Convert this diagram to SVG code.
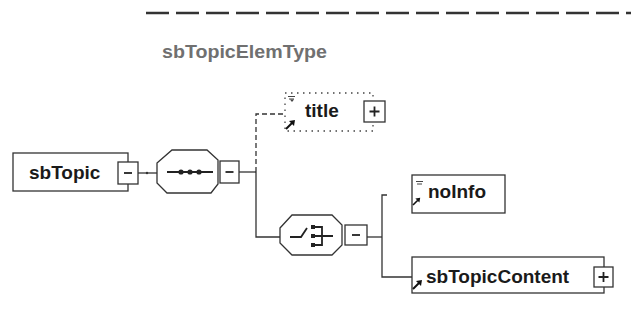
<svg xmlns="http://www.w3.org/2000/svg" width="631" height="336" viewBox="0 0 631 336">
<defs>
<style>
.t{font-family:"Liberation Sans",Arial,sans-serif;font-weight:bold;font-size:19px;fill:#1a1a1a}
.hdr{font-family:"Liberation Sans",Arial,sans-serif;font-weight:bold;font-size:18px;fill:#707070}
.box{fill:#fff;stroke:#333;stroke-width:1.3}
.opt{fill:#fff;stroke:#444;stroke-width:1.3;stroke-dasharray:1.5 4.5}
.ln{fill:none;stroke:#333;stroke-width:1.3}
.dash{fill:none;stroke:#333;stroke-width:1.3;stroke-dasharray:5 3}
.btn{fill:#fff;stroke:#333;stroke-width:1.3}
.sym{fill:none;stroke:#222;stroke-width:1.8}
.dot{fill:#222}
</style>
<g id="refIcon">
<path d="M0,10 L6,4" stroke="#111" stroke-width="2" fill="none"/>
<polygon points="9,1 3,2 8,7" fill="#111"/>
</g>
<g id="eqIcon">
<path d="M0,0.5h7M1,3h5" stroke="#444" stroke-width="1.1" fill="none"/>
</g>
<g id="minus"><path d="M-4,0h8" stroke="#222" stroke-width="1.8"/></g>
<g id="plus"><path d="M-5,0h10M0,-5v10" stroke="#222" stroke-width="1.8"/></g>
</defs>
<rect width="631" height="336" fill="#fff"/>
<line x1="146" y1="13" x2="631" y2="13" stroke="#333" stroke-width="2.5" stroke-dasharray="23 7"/>
<text class="hdr" x="162" y="58" textLength="165" lengthAdjust="spacingAndGlyphs">sbTopicElemType</text>

<g id="connectors">
<path class="ln" d="M138,173 H157"/>
<circle cx="147" cy="173" r="1.2" fill="#333"/>
<path class="ln" d="M239,172 H256"/>
<path class="dash" d="M256,172 V114 H285"/>
<path class="ln" d="M256,172 V237 H280"/>
<path class="ln" d="M367,237 H382"/>
<path class="ln" d="M387,195 H382 V277 H412"/>
</g>

<g id="sbTopic">
<rect class="box" x="13" y="153" width="115" height="38"/>
<text class="t" x="29" y="179">sbTopic</text>
<rect class="btn" x="118" y="162" width="20" height="22"/>
<use href="#minus" x="128" y="173"/>
</g>

<g id="sequence">
<polygon class="box" points="157,163 172,150 207,150 218,160 218,184 211,193 167,193 157,183"/>
<path class="sym" d="M167,172 H213"/>
<circle class="dot" cx="181" cy="172" r="2.6"/>
<circle class="dot" cx="190" cy="172" r="2.6"/>
<circle class="dot" cx="199" cy="172" r="2.6"/>
<rect class="btn" x="220" y="161" width="19" height="22"/>
<use href="#minus" x="229.5" y="172"/>
</g>

<g id="title">
<rect class="opt" x="285" y="93" width="88" height="38"/>
<use href="#eqIcon" x="288" y="96"/>
<path d="M290,99.5 l2,2.5 l2,-2.5z" fill="#444"/>
<use href="#refIcon" x="286" y="119"/>
<text class="t" x="305" y="117">title</text>
<rect class="btn" x="364" y="101" width="21" height="21"/>
<use href="#plus" x="374.5" y="111.5"/>
</g>

<g id="choice">
<polygon class="box" points="280,228 292,215 332,215 342,225 342,245 332,255 292,255 280,243"/>
<path class="sym" d="M290,237 H301 L307,228"/>
<rect class="dot" x="311" y="225" width="4" height="4"/>
<rect class="dot" x="311" y="234" width="4" height="4"/>
<rect class="dot" x="311" y="243" width="4" height="4"/>
<path class="sym" d="M315,227 H322 V245 H315 M315,236 H333"/>
<rect class="btn" x="345" y="225" width="22" height="20"/>
<use href="#minus" x="356" y="235"/>
</g>

<g id="noInfo">
<rect class="box" x="412" y="175" width="93" height="38"/>
<use href="#eqIcon" x="416" y="181"/>
<use href="#refIcon" x="413" y="197" transform="translate(413,197) scale(0.8) translate(-413,-197)"/>
<text class="t" x="428" y="198">noInfo</text>
</g>

<g id="sbTopicContent">
<rect class="box" x="412" y="257" width="192" height="36"/>
<use href="#refIcon" x="413" y="279"/>
<text class="t" x="426" y="283">sbTopicContent</text>
<rect class="btn" x="594" y="267" width="19" height="20"/>
<use href="#plus" x="603.5" y="277"/>
</g>
</svg>
